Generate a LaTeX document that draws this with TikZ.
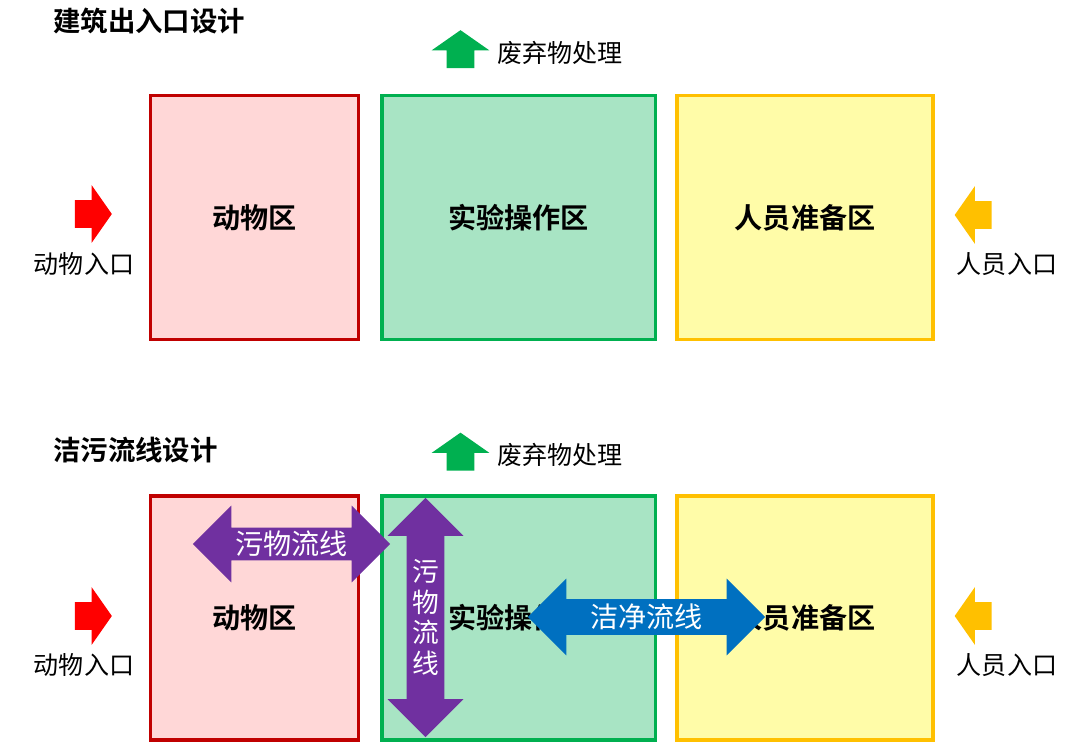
\documentclass[tikz,border=0pt]{standalone}
\usepackage{fontspec}
\setmainfont{Noto Sans CJK SC}[BoldFont={Noto Sans CJK SC Bold}]
\usepackage{tikz}
\usetikzlibrary{positioning,shapes.arrows}
\definecolor{animalline}{RGB}{192,0,0}
\definecolor{animalfill}{RGB}{255,215,215}
\definecolor{labline}{RGB}{0,176,80}
\definecolor{labfill}{RGB}{168,228,196}
\definecolor{staffline}{RGB}{255,192,0}
\definecolor{stafffill}{RGB}{255,252,168}
\definecolor{dirty}{RGB}{112,48,160}
\definecolor{clean}{RGB}{0,112,192}
\tikzset{
  zone/.style={draw, line width=2.5pt, minimum height=6.1cm, inner sep=0pt,
    font=\bfseries\fontsize{20}{24}\selectfont},
  ttl/.style={anchor=west, inner sep=0pt, font=\bfseries\fontsize{19.5}{23}\selectfont},
  note/.style={inner sep=0pt, font=\fontsize{17.8}{21}\selectfont},
  % 出入口箭头
  entry/.style={single arrow, draw=none, inner xsep=0pt, inner ysep=0.3375cm,
    minimum height=0.925cm, single arrow head extend=0.375cm,
    single arrow tip angle=110},
  % 流线箭头
  flowarrow/.style={double arrow, draw=none, inner xsep=0pt,
    double arrow tip angle=90},
  flowtxt/.style={text=white, inner sep=0pt, align=center,
    font=\fontsize{20}{22}\selectfont}
}
\begin{document}
\begin{tikzpicture}[x=0.025cm, y=-0.025cm]
  \useasboundingbox (0,0) rectangle (1080,748);

  % 建筑出入口设计
  \node[ttl] (title1) at (53,21) {建筑出入口设计};
  \node[zone, draw=animalline, fill=animalfill, minimum width=5.19cm] (animal1) at (254.5,217.5) {动物区};
  \node[zone, draw=labline, fill=labfill, minimum width=6.84cm, right=0.5cm of animal1] (lab1) {实验操作区};
  \node[zone, draw=staffline, fill=stafffill, minimum width=6.4cm, right=0.45cm of lab1] (staff1) {人员准备区};
  \node[entry, fill=red] (ain1) at (88.5,214) {};
  \node[note] (alab1) at (84,264) {动物入口};
  \node[entry, fill=staffline, rotate=180] (sin1) at (978,215) {};
  \node[note] (slab1) at (1007,264) {人员入口};
  \node[entry, fill=labline, rotate=90, minimum height=0.95cm] (wout1) at (460.5,54) {};
  \node[note, anchor=west] (wlab1) at (497,53) {废弃物处理};

  % 洁污流线设计
  \node[ttl] (title2) at (53,450) {洁污流线设计};
  \node[zone, draw=animalline, fill=animalfill, minimum width=5.19cm, below=3.825cm of animal1] (animal2) {动物区};
  \node[zone, draw=labline, fill=labfill, minimum width=6.84cm, right=0.5cm of animal2] (lab2) {实验操作区};
  \node[zone, draw=staffline, fill=stafffill, minimum width=6.4cm, right=0.45cm of lab2] (staff2) {人员准备区};
  \node[entry, fill=red] (ain2) at (88.5,616) {};
  \node[note] (alab2) at (84,665) {动物入口};
  \node[entry, fill=staffline, rotate=180] (sin2) at (978,616) {};
  \node[note] (slab2) at (1007,665) {人员入口};
  \node[entry, fill=labline, rotate=90, minimum height=0.95cm] (wout2) at (460.5,456.5) {};
  \node[note, anchor=west] (wlab2) at (497,455) {废弃物处理};

  \node[flowarrow, fill=dirty, inner ysep=0.4cm, minimum height=4.925cm,
    double arrow head extend=0.55cm] (dirtyh) at (291.5,544) {};
  \node[flowtxt] at (dirtyh.center) {污物流线};
  \node[flowarrow, fill=dirty, inner ysep=0.4625cm, minimum height=5.975cm,
    double arrow head extend=0.475cm, rotate=90] (dirtyv) at (425.5,617.5) {};
  \node[flowtxt, font=\fontsize{19}{22}\selectfont] at (dirtyv.center) {污\\物\\流\\线};
  \node[flowarrow, fill=clean, inner ysep=0.4375cm, minimum height=5.925cm,
    double arrow head extend=0.5125cm] (cleanh) at (646.5,617) {};
  \node[flowtxt] at (cleanh.center) {洁净流线};
\end{tikzpicture}
\end{document}
